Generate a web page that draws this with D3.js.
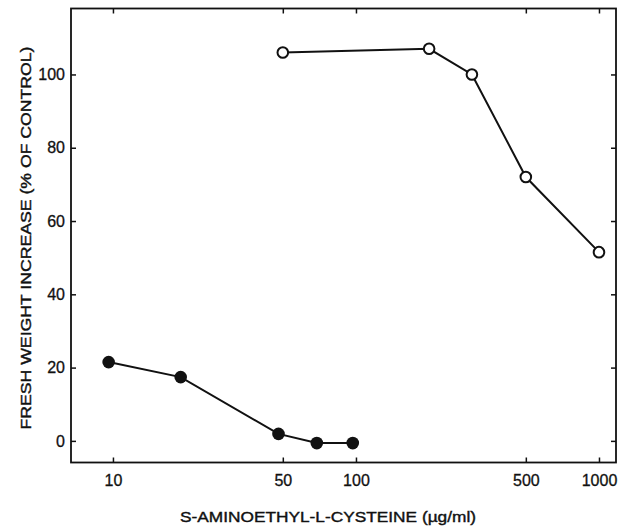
<!DOCTYPE html>
<html>
<head>
<meta charset="utf-8">
<script src="https://cdn.jsdelivr.net/npm/d3@7"></script>
<style>
  body { margin: 0; background: #fff; }
  text { font-family: "Liberation Sans", Arial, sans-serif; fill: #111; }
</style>
</head>
<body>
<div id="graph"></div>
<script>
// values
var filledDose = [9.6, 19, 48, 69, 97];
var filledGrowth = [21.5, 17.4, 1.9, -0.6, -0.6];

var openDose = [50, 200, 300, 500, 1000];
var openGrowth = [106, 107, 100, 72, 51.5];

var xTicks = [10, 50, 100, 500, 1000];
var yTicks = [0, 20, 40, 60, 80, 100];

var svgWidth = 622, svgHeight = 529;
var frame = {left: 71, right: 616, top: 8.5, bottom: 462.5};

var svg = d3.select("#graph")
  .append("svg")
  .attr("width", svgWidth)
  .attr("height", svgHeight);

var x = d3.scaleLog()
  .domain([6.72, 1175])
  .range([frame.left, frame.right]);

var y = d3.scaleLinear()
  .domain([-5.9, 118])
  .range([frame.bottom, frame.top]);

// ticks point inward on all four sides
var bottomAxis = d3.axisBottom(x).tickValues(xTicks).tickSize(-5).tickPadding(12)
  .tickFormat(d3.format("d"));
var leftAxis = d3.axisLeft(y).tickValues(yTicks).tickSize(-5).tickPadding(6);
var topAxis = d3.axisTop(x).tickValues(xTicks).tickSize(-5).tickFormat("");
var rightAxis = d3.axisRight(y).tickValues(yTicks).tickSize(-5).tickFormat("");

function styleAxis(g) {
  g.select(".domain").remove();
  g.selectAll("line").attr("stroke", "#111").attr("stroke-width", 1.5);
  g.selectAll("text").attr("font-size", 16).style("fill", "#111")
    .attr("stroke", "#111").attr("stroke-width", 0.3);
}

svg.append("g").attr("transform", `translate(0, ${frame.bottom})`).call(bottomAxis).call(styleAxis);
svg.append("g").attr("transform", `translate(${frame.left}, 0)`).call(leftAxis).call(styleAxis);
svg.append("g").attr("transform", `translate(0, ${frame.top})`).call(topAxis).call(styleAxis);
svg.append("g").attr("transform", `translate(${frame.right}, 0)`).call(rightAxis).call(styleAxis);

svg.append("rect")
  .attr("x", frame.left)
  .attr("y", frame.top)
  .attr("width", frame.right - frame.left)
  .attr("height", frame.bottom - frame.top)
  .attr("fill", "none")
  .attr("stroke", "#111")
  .attr("stroke-width", 1.8);

var line = d3.line()
  .x(function(d) { return x(d[0]); })
  .y(function(d) { return y(d[1]); });

var filledData = filledDose.map(function(d, i) { return [d, filledGrowth[i]]; });
var openData = openDose.map(function(d, i) { return [d, openGrowth[i]]; });

svg.append("path").datum(filledData)
  .attr("d", line).attr("fill", "none").attr("stroke", "#111").attr("stroke-width", 2);
svg.append("path").datum(openData)
  .attr("d", line).attr("fill", "none").attr("stroke", "#111").attr("stroke-width", 2);

svg.selectAll(".filled").data(filledData).enter()
  .append("circle")
  .attr("cx", function(d) { return x(d[0]); })
  .attr("cy", function(d) { return y(d[1]); })
  .attr("r", 6.3)
  .attr("fill", "#111");

svg.selectAll(".open").data(openData).enter()
  .append("circle")
  .attr("cx", function(d) { return x(d[0]); })
  .attr("cy", function(d) { return y(d[1]); })
  .attr("r", 5.3)
  .attr("fill", "#fff")
  .attr("stroke", "#111")
  .attr("stroke-width", 2);

// axis titles
svg.append("text")
  .attr("x", 328)
  .attr("y", 522)
  .attr("text-anchor", "middle")
  .attr("font-size", 15)
  .attr("stroke", "#111")
  .attr("stroke-width", 0.4)
  .attr("textLength", 296)
  .attr("lengthAdjust", "spacingAndGlyphs")
  .text("S-AMINOETHYL-L-CYSTEINE (\u00b5g/ml)");

svg.append("text")
  .attr("transform", "translate(31, 238) rotate(-90)")
  .attr("text-anchor", "middle")
  .attr("font-size", 15)
  .attr("stroke", "#111")
  .attr("stroke-width", 0.4)
  .attr("textLength", 383)
  .attr("lengthAdjust", "spacingAndGlyphs")
  .text("FRESH WEIGHT INCREASE (% OF CONTROL)");
</script>
</body>
</html>
